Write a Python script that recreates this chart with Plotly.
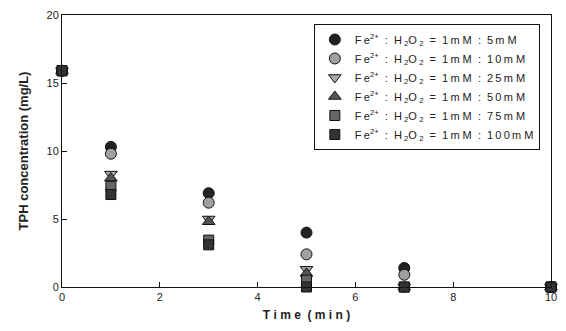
import plotly.graph_objects as go

T = "\u2009"  # thin space to mimic wide letter spacing
S = "\u00a0\u00a0"  # non-collapsing gap

time = [0, 1, 3, 5, 7, 10]
ratios = ["5", "10", "25", "50", "75", "100"]
series_names = [
    "F" + T + "e<sup>2+</sup>" + S + ":" + S + "H" + T + "<sub>2</sub>O" + T + "<sub>2</sub>" + S + "=" + S
    + T.join("1m") + "\u00a0M" + S + ":" + S + T.join(r + "m") + "\u00a0M"
    for r in ratios
]
tph_5mM = [15.9, 10.3, 6.9, 4.0, 1.4, 0.0]
tph_10mM = [15.9, 9.8, 6.2, 2.4, 0.9, 0.0]
tph_25mM = [15.9, 8.3, 5.0, 1.3, 0.0, 0.0]
tph_50mM = [15.9, 8.0, 4.8, 1.0, 0.0, 0.0]
tph_75mM = [15.9, 7.4, 3.45, 0.5, 0.0, 0.0]
tph_100mM = [15.9, 6.8, 3.1, 0.0, 0.0, 0.0]
values = [tph_5mM, tph_10mM, tph_25mM, tph_50mM, tph_75mM, tph_100mM]

symbols = ["circle", "circle", "triangle-down", "triangle-up", "square", "square"]
colors = ["#222222", "#a0a0a0", "#a8a8a8", "#555555", "#666666", "#333333"]
sizes = [11, 11, 11, 11, 10, 10]

fig = go.Figure()
for name, y, sym, col, sz in zip(series_names, values, symbols, colors, sizes):
    fig.add_trace(go.Scatter(
        x=time, y=y, mode="markers", name=name,
        marker=dict(symbol=sym, color=col, size=sz, line=dict(color="#111111", width=1)),
        cliponaxis=False,
    ))

fig.update_layout(
    width=566, height=331,
    margin=dict(l=62, r=9, t=11, b=44),
    paper_bgcolor="white", plot_bgcolor="white",
    font=dict(family="Liberation Sans, Arial, sans-serif", size=11, color="#222222"),
    showlegend=True,
    legend=dict(
        x=0.515, y=0.967, xanchor="left", yanchor="top",
        bgcolor="white", bordercolor="#111111", borderwidth=1,
        font=dict(size=11, color="#222222"),
        tracegroupgap=0,
    ),
)
fig.update_xaxes(
    range=[0, 10], tickvals=[0, 2, 4, 6, 8, 10],
    showgrid=False, zeroline=False,
    showline=True, linecolor="#111111", linewidth=1, mirror=True,
    ticks="inside", ticklen=5, tickcolor="#111111",
    title=dict(text="<b>T i m e  ( m i n )</b>", font=dict(size=12), standoff=8),
)
fig.update_yaxes(
    range=[0, 20], tickvals=[0, 5, 10, 15, 20],
    showgrid=False, zeroline=False,
    showline=True, linecolor="#111111", linewidth=1, mirror=True,
    ticks="inside", ticklen=5, tickcolor="#111111",
    title=dict(text="<b>TPH concentration (mg/L)</b>", font=dict(size=13), standoff=14),
)
fig.write_html("out.html")
